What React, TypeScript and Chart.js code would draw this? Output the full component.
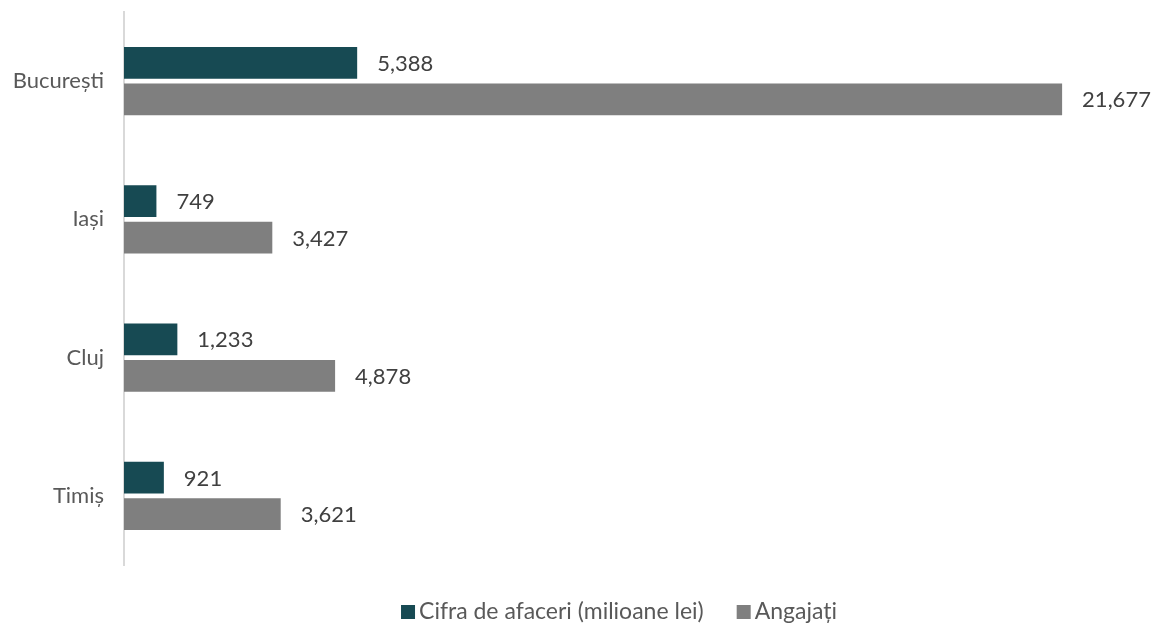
import React, { useEffect, useRef } from "react";
import { Chart, registerables } from "chart.js";

Chart.register(...registerables);

const categories = ["București", "Iași", "Cluj", "Timiș"];
const cifraAfaceri = [5388, 749, 1233, 921];
const angajati = [21677, 3427, 4878, 3621];
const seriesNames = ["Cifra de afaceri (milioane lei)", "Angajați"];
const seriesColors = ["#174a53", "#7f7f7f"];

const FONT = "Lato, 'Open Sans', sans-serif";
const FONT_SIZE = 22;
const LEGEND_FONT_SIZE = 23;

const valueLabels = {
  id: "valueLabels",
  afterDatasetsDraw(chart: any) {
    const ctx = chart.ctx;
    ctx.save();
    ctx.font = `${FONT_SIZE}px ${FONT}`;
    ctx.fillStyle = "#404040";
    ctx.textAlign = "left";
    ctx.textBaseline = "middle";
    chart.data.datasets.forEach((ds: any, i: number) => {
      const meta = chart.getDatasetMeta(i);
      meta.data.forEach((bar: any, j: number) => {
        const v = ds.data[j] as number;
        ctx.fillText(v.toLocaleString("en-US"), bar.x + 20, bar.y + 1);
      });
    });
    ctx.restore();
  },
};

const bottomLegend = {
  id: "bottomLegend",
  afterDraw(chart: any) {
    const ctx = chart.ctx;
    ctx.save();
    ctx.font = `${LEGEND_FONT_SIZE}px ${FONT}`;
    ctx.textBaseline = "middle";
    ctx.textAlign = "left";
    const box = 14;
    const gapBoxText = 4;
    const gapItems = 33;
    const items = chart.data.datasets.map((ds: any) => ({
      label: ds.label as string,
      color: ds.backgroundColor as string,
      w: ctx.measureText(ds.label).width,
    }));
    let total = 0;
    items.forEach((it: any, i: number) => {
      total += box + gapBoxText + it.w + (i < items.length - 1 ? gapItems : 0);
    });
    const cy = 612;
    let x = 619 - total / 2;
    items.forEach((it: any) => {
      ctx.fillStyle = it.color;
      ctx.fillRect(x, cy - box / 2, box, box);
      x += box + gapBoxText;
      ctx.fillStyle = "#595959";
      ctx.fillText(it.label, x, cy);
      x += it.w + gapItems;
    });
    ctx.restore();
  },
};

export default function App() {
  const ref = useRef<HTMLCanvasElement | null>(null);
  useEffect(() => {
    if (!ref.current) return;
    const chart = new Chart(ref.current, {
      type: "bar",
      data: {
        labels: categories,
        datasets: [
          {
            label: seriesNames[0],
            data: cifraAfaceri,
            backgroundColor: seriesColors[0],
            borderWidth: 0,
            categoryPercentage: 0.528,
            barPercentage: 0.87,
          },
          {
            label: seriesNames[1],
            data: angajati,
            backgroundColor: seriesColors[1],
            borderWidth: 0,
            categoryPercentage: 0.528,
            barPercentage: 0.87,
          },
        ],
      },
      options: {
        indexAxis: "y",
        responsive: false,
        animation: false,
        layout: { padding: { top: 12, right: 11, left: 0, bottom: 61 } },
        scales: {
          x: {
            display: false,
            min: 0,
            max: 23500,
          },
          y: {
            afterFit(scale: any) {
              scale.width = 124;
              scale.paddingTop = 0;
              scale.paddingBottom = 0;
            },
            grid: { display: false, drawTicks: false },
            border: { display: true, color: "#d9d9d9", width: 2 },
            ticks: {
              color: "#595959",
              font: { family: FONT, size: FONT_SIZE },
              padding: 20,
            },
          },
        },
        plugins: {
          legend: { display: false },
          tooltip: { enabled: false },
        },
      },
      plugins: [valueLabels, bottomLegend],
    });
    return () => chart.destroy();
  }, []);
  return (
    <div style={{ position: "fixed", left: 0, top: 0, width: 1152, height: 626, background: "#fff" }}>
      <canvas ref={ref} width={1152} height={626} />
    </div>
  );
}
